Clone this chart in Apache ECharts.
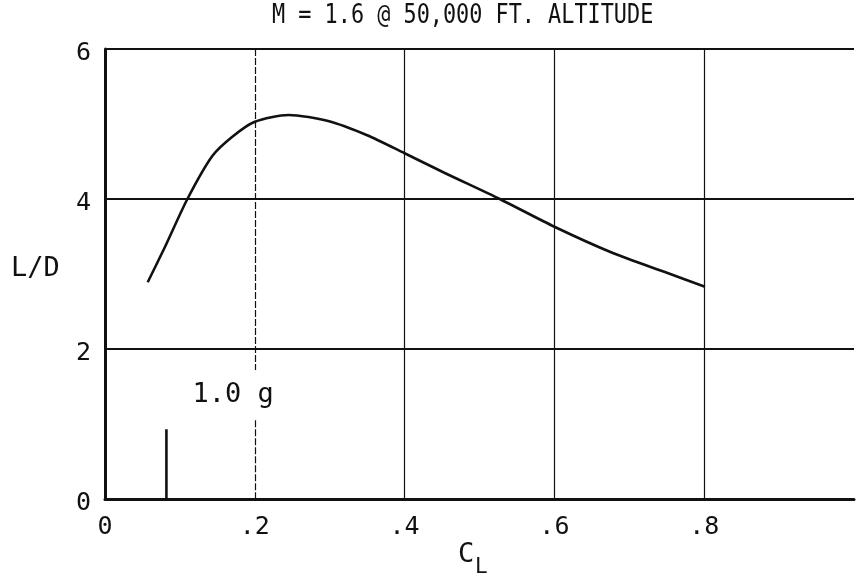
<!DOCTYPE html>
<html>
<head>
<meta charset="utf-8">
<script src="https://cdn.jsdelivr.net/npm/echarts@6/dist/echarts.min.js"></script>
<style>
  html, body { margin: 0; padding: 0; background: #fff; }
  #chart { width: 857px; height: 582px; }
</style>
</head>
<body>
<div id="chart"></div>
<script>
// Lift coefficient vs. lift-to-drag ratio, M = 1.6 at 50,000 ft
const clValues = [0.057, 0.08, 0.11, 0.143, 0.17, 0.2, 0.245, 0.298, 0.35, 0.4, 0.453, 0.527, 0.6, 0.678, 0.752, 0.801];
const ldValues = [2.89, 3.36, 4.0, 4.57, 4.83, 5.03, 5.12, 5.04, 4.85, 4.61, 4.35, 4.0, 3.63, 3.28, 3.01, 2.83];

// 1.0 g operating point marker
const oneGCl = 0.082;
const oneGHeight = [0, 0.93];
const oneGLabel = '1.0 g';
const oneGLabelPos = [0.171, 1.39];

const xTicks = [0, 0.2, 0.4, 0.6, 0.8, 1.0];
const xTickLabels = ['0', '.2', '.4', '.6', '.8', ''];
const yTickLabels = ['0', '2', '4', '6'];

const titleText = 'M = 1.6 @ 50,000 FT. ALTITUDE';
const FONT = 'DejaVu Sans Mono';
const INK = '#111';

const chart = echarts.init(document.getElementById('chart'), null, { renderer: 'canvas' });

const curve = clValues.map((x, i) => [x, ldValues[i]]);

chart.setOption({
  animation: false,
  backgroundColor: '#fff',
  grid: { left: 105, top: 49, width: 755, height: 450, containLabel: false },
  xAxis: {
    type: 'value', min: 0, max: 1.0, interval: 0.2,
    axisLine: { show: true, onZero: false, lineStyle: { color: INK, width: 3 } },
    axisTick: { show: false },
    splitLine: { show: false },
    axisLabel: {
      fontFamily: FONT, fontSize: 25, color: INK, margin: 16,
      formatter: v => xTickLabels[xTicks.findIndex(t => Math.abs(t - v) < 1e-6)] || ''
    }
  },
  yAxis: {
    type: 'value', min: 0, max: 6, interval: 2,
    axisLine: { show: true, lineStyle: { color: INK, width: 3 } },
    axisTick: { show: false },
    splitLine: { show: true, lineStyle: { color: INK, width: 2 } },
    axisLabel: {
      color: INK, margin: 14,
      formatter: v => '{t|' + yTickLabels[Math.round(v / 2)] + '}',
      rich: { t: { fontFamily: FONT, fontSize: 25, color: INK, padding: [9, 0, 0, 0] } }
    }
  },
  graphic: [
    { type: 'text', left: 272, top: 3, scaleX: 0.84,
      style: { text: titleText, font: '26px "' + FONT + '"', fill: INK } },
    { type: 'text', left: 11, top: 255,
      style: { text: 'L/D', font: '27px "' + FONT + '"', fill: INK } },
    { type: 'text', left: 458, top: 541,
      style: { text: 'C', font: '27px "' + FONT + '"', fill: INK } },
    { type: 'text', left: 475, top: 557,
      style: { text: 'L', font: '21px "' + FONT + '"', fill: INK } }
  ],
  series: [
    {
      // vertical grid lines
      type: 'line', data: [], silent: true,
      markLine: {
        symbol: 'none', silent: true, label: { show: false },
        lineStyle: { color: INK, width: 1.2, type: 'solid' },
        data: [
          { xAxis: 0.4 }, { xAxis: 0.6 }, { xAxis: 0.8 },
          [{ coord: [0.2, 6], lineStyle: { type: [7, 2] } }, { coord: [0.2, 1.72] }],
          [{ coord: [0.2, 1.05], lineStyle: { type: [7, 2] } }, { coord: [0.2, 0] }]
        ]
      }
    },
    {
      type: 'line', data: curve, smooth: 0.25, showSymbol: false,
      lineStyle: { color: INK, width: 2.6 }
    },
    {
      type: 'line', data: [[oneGCl, oneGHeight[0]], [oneGCl, oneGHeight[1]]],
      showSymbol: false, lineStyle: { color: INK, width: 2.6 }
    },
    {
      type: 'scatter', data: [oneGLabelPos], symbolSize: 0,
      itemStyle: { opacity: 1 },
      label: {
        show: true, position: 'inside', formatter: oneGLabel,
        fontFamily: FONT, fontSize: 27, color: INK
      }
    }
  ]
});
</script>
</body>
</html>
